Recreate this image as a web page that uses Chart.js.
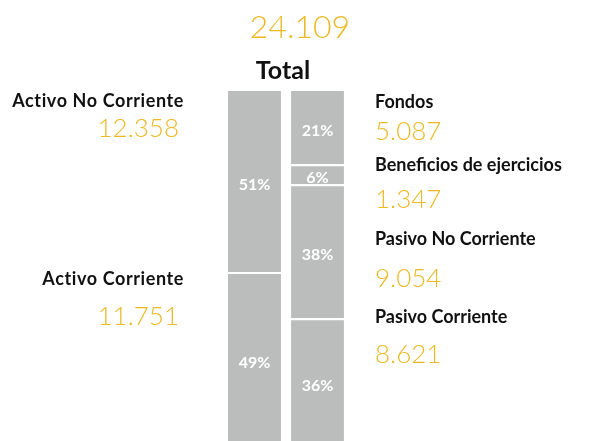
<!DOCTYPE html>
<html>
<head>
<meta charset="utf-8">
<script src="https://cdn.jsdelivr.net/npm/chart.js@4"></script>
<style>
  html, body { margin: 0; padding: 0; background: #fff; overflow: hidden; }
  #wrap { width: 592px; height: 446px; }
</style>
</head>
<body>
<div id="wrap"><canvas id="mycanvas"></canvas></div>
<script>
// balance: activo (left bar) and pasivo (right bar), bottom segment first
var barNames = ['Activo', 'Pasivo'];
var activoLabels = ['Activo Corriente', 'Activo No Corriente'];
var activoValues = [11751, 12358];
var pasivoLabels = ['Pasivo Corriente', 'Pasivo No Corriente', 'Beneficios de ejercicios', 'Fondos'];
var pasivoValues = [8621, 9054, 1347, 5087];
var totalTitle = 'Total';

var gold = '#ebb926';
var grey = '#bbbcbc';
var total = activoValues.reduce(function(a, b) { return a + b; }, 0);

function fmt(n) {
  return String(n).replace(/\B(?=(\d{3})+(?!\d))/g, '.');
}

var datasets = [];
activoLabels.forEach(function(name, i) {
  datasets.push({ label: name, data: [activoValues[i], null] });
});
pasivoLabels.forEach(function(name, i) {
  datasets.push({ label: name, data: [null, pasivoValues[i]] });
});
datasets.forEach(function(ds) {
  ds.backgroundColor = grey;
  ds.borderColor = '#ffffff';
  ds.borderWidth = { top: 2 };
  ds.borderSkipped = false;
  ds.barPercentage = 1;
  ds.categoryPercentage = 0.84;
});

// text baselines for the name / value pairs beside the bars
var leftRows = { 'Activo No Corriente': [107, 137], 'Activo Corriente': [285, 325] };
var rightRows = {
  'Fondos': [108, 140],
  'Beneficios de ejercicios': [171, 208],
  'Pasivo No Corriente': [245, 287],
  'Pasivo Corriente': [323, 363]
};

var textPlugin = {
  id: 'textPlugin',
  afterDraw: function(chart) {
    var c = chart.ctx;
    c.save();
    c.textBaseline = 'middle';
    c.textAlign = 'center';
    c.fillStyle = '#ffffff';
    c.font = 'bold 16px Lato';
    chart.data.datasets.forEach(function(ds, i) {
      chart.getDatasetMeta(i).data.forEach(function(bar, j) {
        var v = ds.data[j];
        if (v == null) return;
        c.fillText(Math.round(v / total * 100) + '%', bar.x, (bar.y + bar.base) / 2 + 4);
      });
    });

    c.textBaseline = 'alphabetic';
    c.fillStyle = gold;
    c.font = '300 32px Lato';
    c.fillText(fmt(total), 300, 38);
    c.fillStyle = '#111111';
    c.font = 'bold 25px Lato';
    c.fillText(totalTitle, 283, 79);

    activoLabels.forEach(function(name, i) {
      var r = leftRows[name];
      c.textAlign = 'right';
      c.fillStyle = '#111111';
      c.font = 'bold 18px Lato';
      c.letterSpacing = '0.6px';
      c.fillText(name, 184, r[0]);
      c.letterSpacing = '0px';
      c.fillStyle = gold;
      c.font = '300 26px Lato';
      c.fillText(fmt(activoValues[i]), 179, r[1]);
    });
    pasivoLabels.forEach(function(name, i) {
      var r = rightRows[name];
      c.textAlign = 'left';
      c.fillStyle = '#111111';
      c.font = 'bold 18px Lato';
      c.fillText(name, 375, r[0]);
      c.fillStyle = gold;
      c.font = '300 26px Lato';
      c.fillText(fmt(pasivoValues[i]), 375, r[1]);
    });
    c.restore();
  }
};

var ctx = document.getElementById('mycanvas');
var balanceChart = new Chart(ctx, {
  type: 'bar',
  data: { labels: barNames, datasets: datasets },
  options: {
    responsive: true,
    maintainAspectRatio: false,
    animation: false,
    layout: { padding: { left: 223, right: 243, top: 89, bottom: 0 } },
    plugins: { legend: { display: false }, tooltip: { enabled: false } },
    scales: {
      x: { stacked: true, display: false },
      y: { stacked: true, display: false, min: 0, max: total }
    }
  },
  plugins: [textPlugin]
});
</script>
</body>
</html>
